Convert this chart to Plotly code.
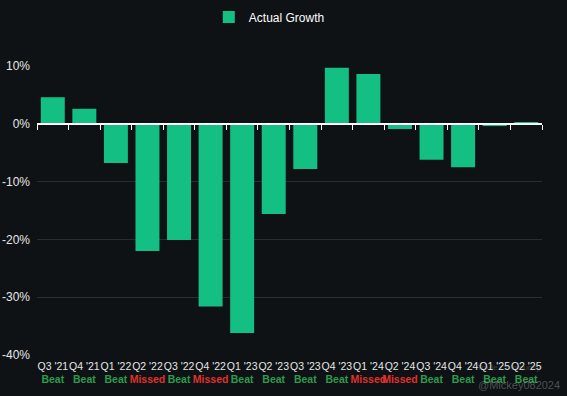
import plotly.graph_objects as go

quarters = ["Q3 '21", "Q4 '21", "Q1 '22", "Q2 '22", "Q3 '22", "Q4 '22", "Q1 '23", "Q2 '23",
            "Q3 '23", "Q4 '23", "Q1 '24", "Q2 '24", "Q3 '24", "Q4 '24", "Q1 '25", "Q2 '25"]
growth = [4.6, 2.6, -6.8, -22.0, -20.1, -31.6, -36.2, -15.6,
          -7.8, 9.7, 8.6, -0.9, -6.2, -7.5, -0.4, 0.2]
results = ["Beat", "Beat", "Beat", "Missed", "Beat", "Missed", "Beat", "Beat",
           "Beat", "Beat", "Missed", "Missed", "Beat", "Beat", "Beat", "Beat"]
y_ticks = [-40, -30, -20, -10, 0, 10]

BG = "#0e1214"
BAR = "#13bf83"
BEAT = "#2e9a4e"
MISS = "#e0302c"

ticktext = [
    f"{q}<br><span style='color:{BEAT if r == 'Beat' else MISS};font-size:10.5px'><b>{r}</b></span>"
    for q, r in zip(quarters, results)
]

fig = go.Figure()
fig.add_trace(go.Bar(x=quarters, y=growth, name="Actual Growth", marker_color=BAR,
                     marker_line_width=0))
# invisible trace to carry the zero-line axis with boundary ticks
fig.add_trace(go.Bar(x=quarters, y=[None] * len(quarters), xaxis="x2", showlegend=False,
                     hoverinfo="skip"))

ymin, ymax = y_ticks[0], y_ticks[-1]
zero_pos = (0 - ymin) / (ymax - ymin)

fig.update_layout(
    width=567, height=396,
    paper_bgcolor=BG, plot_bgcolor=BG,
    margin=dict(l=37, r=25, t=66, b=41, autoexpand=False),
    bargap=0.24,
    font=dict(family="Liberation Sans, Arial, sans-serif", color="#e6e6e6", size=12),
    showlegend=True,
    legend=dict(orientation="h", x=0.46, xanchor="center", y=1.22, yanchor="top",
                font=dict(size=12, color="#ffffff"), bgcolor="rgba(0,0,0,0)"),
    xaxis=dict(type="category", showgrid=False, showline=False, zeroline=False,
               tickmode="array", tickvals=quarters, ticktext=ticktext, tickangle=0,
               automargin=False, ticklabelstandoff=3,
               ticks="", tickfont=dict(size=10.5, color="#e6e6e6")),
    xaxis2=dict(type="category", overlaying="x", anchor="free", position=zero_pos,
                side="bottom", showgrid=False, showline=True, linecolor="#ffffff",
                linewidth=1.5, ticks="outside", tickson="boundaries", ticklen=5,
                tickcolor="#ffffff", showticklabels=False, matches="x", automargin=False),
    yaxis=dict(range=[ymin, ymax], tickvals=y_ticks, automargin=False,
               ticktext=[f"{v}%" for v in y_ticks],
               gridcolor="#2a2d30", gridwidth=1, zeroline=False, showline=False,
               tickfont=dict(size=12, color="#e6e6e6"), ticks="", ticklabelstandoff=6),
)

fig.add_annotation(text="Trade Community", xref="paper", yref="paper", x=1.0, y=-0.02,
                   xanchor="right", yanchor="top", showarrow=False,
                   font=dict(size=8, color="rgba(200,200,200,0.25)"))
fig.add_annotation(text="@Mickey082024", xref="paper", yref="paper", x=1.04, y=-0.075,
                   xanchor="right", yanchor="top", showarrow=False,
                   font=dict(size=11, color="rgba(200,200,200,0.35)"))

fig.write_html("out.html", config={"displayModeBar": False},
               post_script="document.body.style.margin='0';document.body.style.background='#0e1214';")
